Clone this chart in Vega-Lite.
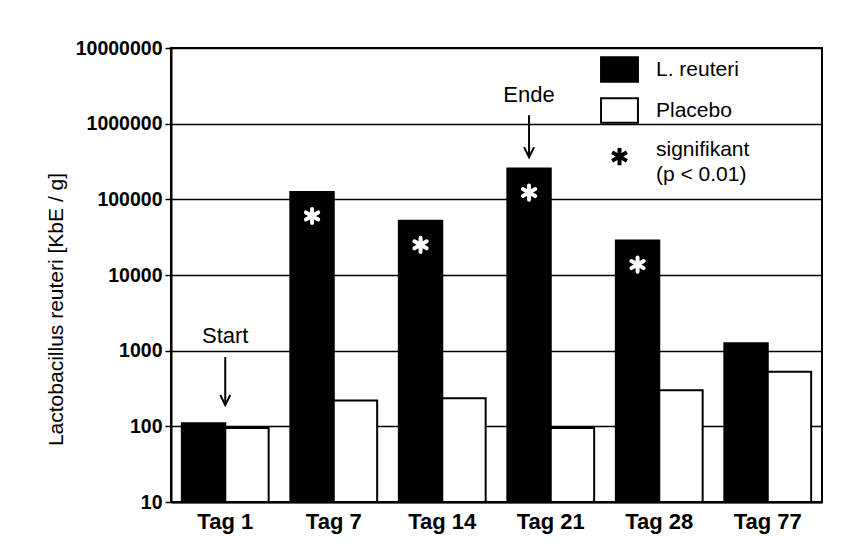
{
  "$schema": "https://vega.github.io/schema/vega-lite/v6.json",
  "width": 651,
  "height": 454,
  "autosize": "none",
  "padding": {"left": 171, "top": 48, "right": 27, "bottom": 55},
  "background": "white",
  "config": {
    "view": {"stroke": "black", "strokeWidth": 2},
    "font": "Liberation Sans"
  },
  "datasets": {
    "bars": [
      {"tag": "Tag 1", "series": "L. reuteri", "value": 110, "sig": false},
      {"tag": "Tag 1", "series": "Placebo", "value": 95, "sig": false},
      {"tag": "Tag 7", "series": "L. reuteri", "value": 125000, "sig": true},
      {"tag": "Tag 7", "series": "Placebo", "value": 220, "sig": false},
      {"tag": "Tag 14", "series": "L. reuteri", "value": 52000, "sig": true},
      {"tag": "Tag 14", "series": "Placebo", "value": 235, "sig": false},
      {"tag": "Tag 21", "series": "L. reuteri", "value": 255000, "sig": true},
      {"tag": "Tag 21", "series": "Placebo", "value": 95, "sig": false},
      {"tag": "Tag 28", "series": "L. reuteri", "value": 28500, "sig": true},
      {"tag": "Tag 28", "series": "Placebo", "value": 300, "sig": false},
      {"tag": "Tag 77", "series": "L. reuteri", "value": 1250, "sig": false},
      {"tag": "Tag 77", "series": "Placebo", "value": 525, "sig": false}
    ],
    "start": [{"tag": "Tag 1", "label": "Start", "top": 823, "tip": 191, "textY": 1560}],
    "ende": [{"tag": "Tag 21", "series": "L. reuteri", "label": "Ende", "top": 1295000, "tip": 361000, "textY": 2380000}]
  },
  "layer": [
    {
      "data": {"name": "bars"},
      "mark": {"type": "bar", "stroke": "black", "strokeWidth": 2},
      "encoding": {
        "x": {
          "field": "tag", "type": "nominal",
          "scale": {"domain": ["Tag 1", "Tag 7", "Tag 14", "Tag 21", "Tag 28", "Tag 77"], "paddingInner": 0.2, "paddingOuter": 0.1},
          "axis": {"title": null, "labelFont": "Liberation Sans", "labelFontWeight": "bold", "labelFontSize": 22, "labelColor": "black", "ticks": false, "labelPadding": 9, "domainColor": "black", "domainWidth": 2, "labelAngle": 0}
        },
        "xOffset": {"field": "series", "type": "nominal", "scale": {"domain": ["L. reuteri", "Placebo"], "paddingInner": 0, "paddingOuter": 0}},
        "y": {
          "field": "value", "type": "quantitative",
          "scale": {"type": "log", "domain": [10, 10000000], "nice": false},
          "axis": {"title": "Lactobacillus reuteri [KbE / g]", "values": [10, 100, 1000, 10000, 100000, 1000000, 10000000], "format": "d", "grid": true, "gridColor": "black", "gridWidth": 1.5, "gridOpacity": 1, "domainColor": "black", "domainWidth": 2, "tickColor": "black", "tickSize": 6, "tickWidth": 1.5, "labelFont": "Liberation Sans", "labelFontWeight": "bold", "labelFontSize": 19.5, "labelColor": "black", "labelPadding": 3, "labelOverlap": false, "titleFont": "Liberation Sans", "titleFontWeight": "normal", "titleFontSize": 21, "titleColor": "black", "titleX": -115, "titleY": 261, "titleAngle": 270, "titleAlign": "center", "titleBaseline": "middle"}
        },
        "y2": {"datum": 10},
        "fill": {
          "field": "series", "type": "nominal",
          "scale": {"domain": ["L. reuteri", "Placebo", "signifikant"], "range": ["black", "white", "black"]},
          "legend": {
            "title": null, "orient": "none", "legendX": 438, "legendY": 11, "padding": 0,
            "symbolSize": 605, "labelFontSize": 21, "labelFont": "Liberation Sans", "labelColor": "black", "labelOffset": 26, "rowPadding": 8, "labelLimit": 0,
            "labelExpr": "datum.label == 'signifikant' ? ['signifikant', '(p < 0.01)'] : datum.label",
            "symbolStrokeColor": "black", "symbolStrokeWidth": 2, "symbolOpacity": 1,
            "encode": {
              "symbols": {"update": {
                "shape": {"signal": "datum.value == 'signifikant' ? 'M0,0.2L0,1.6M-0.6,0.55L0.6,1.25M-0.6,1.25L0.6,0.55' : 'M-1.5,-1H1.5V1H-1.5Z'"},
                "strokeWidth": {"signal": "datum.value == 'signifikant' ? 4 : 2"},
                "stroke": {"value": "black"}
              }},
              "labels": {"update": {"lineHeight": {"value": 25}, "dy": {"signal": "datum.value == 'signifikant' ? 4 : 0"}}}
            }
          }
        }
      }
    },
    {
      "data": {"name": "bars"},
      "transform": [{"filter": "datum.sig"}],
      "mark": {"type": "point", "shape": "M0,-1L0,1M-0.87,-0.5L0.87,0.5M-0.87,0.5L0.87,-0.5", "size": 200, "color": "white", "stroke": "white", "strokeWidth": 4, "filled": false, "opacity": 1, "yOffset": 24, "xOffset": 2, "strokeCap": "round"},
      "encoding": {
        "x": {"field": "tag", "type": "nominal"},
        "xOffset": {"field": "series", "type": "nominal"},
        "y": {"field": "value", "type": "quantitative"}
      }
    },
    {
      "data": {"name": "start"},
      "encoding": {"x": {"field": "tag", "type": "nominal"}},
      "layer": [
        {"mark": {"type": "rule", "stroke": "black", "strokeWidth": 2}, "encoding": {"y": {"field": "top", "type": "quantitative"}, "y2": {"field": "tip"}}},
        {"mark": {"type": "point", "shape": "M-0.5,-1L0,0L0.5,-1", "size": 400, "filled": false, "color": "black", "stroke": "black", "strokeWidth": 2, "opacity": 1}, "encoding": {"y": {"field": "tip", "type": "quantitative"}}},
        {"mark": {"type": "text", "fontSize": 22, "baseline": "middle", "color": "black", "font": "Liberation Sans"}, "encoding": {"y": {"field": "textY", "type": "quantitative"}, "text": {"field": "label"}}}
      ]
    },
    {
      "data": {"name": "ende"},
      "encoding": {"x": {"field": "tag", "type": "nominal"}, "xOffset": {"field": "series", "type": "nominal"}},
      "layer": [
        {"mark": {"type": "rule", "stroke": "black", "strokeWidth": 2}, "encoding": {"y": {"field": "top", "type": "quantitative"}, "y2": {"field": "tip"}}},
        {"mark": {"type": "point", "shape": "M-0.5,-1L0,0L0.5,-1", "size": 400, "filled": false, "color": "black", "stroke": "black", "strokeWidth": 2, "opacity": 1}, "encoding": {"y": {"field": "tip", "type": "quantitative"}}},
        {"mark": {"type": "text", "fontSize": 22, "baseline": "middle", "color": "black", "font": "Liberation Sans"}, "encoding": {"y": {"field": "textY", "type": "quantitative"}, "text": {"field": "label"}}}
      ]
    }
  ]
}
